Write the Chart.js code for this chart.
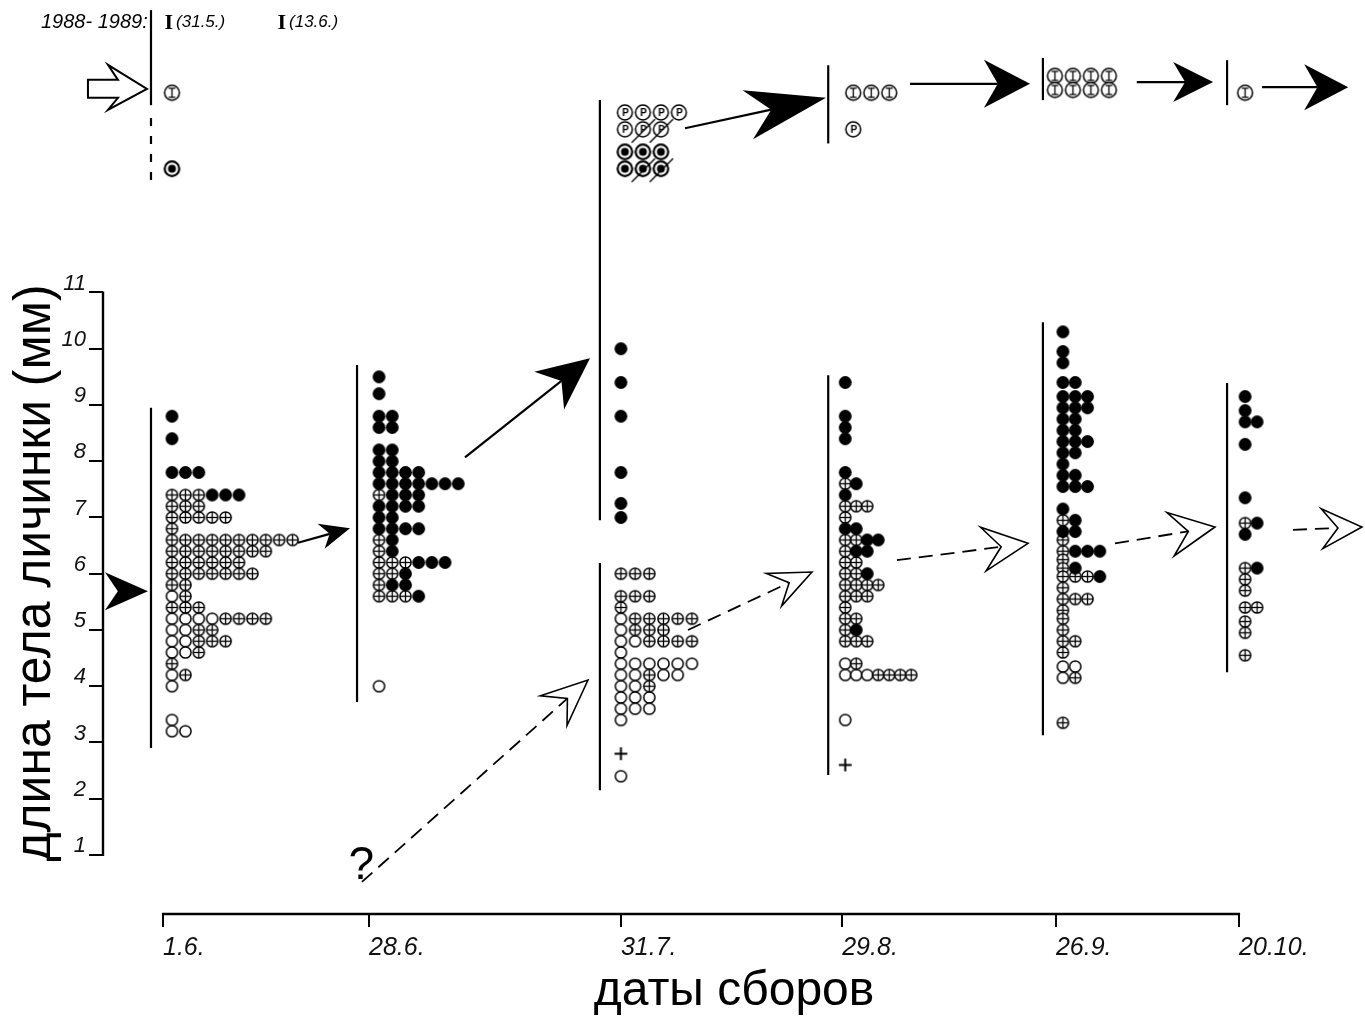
<!DOCTYPE html>
<html>
<head>
<meta charset="utf-8">
<script src="https://cdn.jsdelivr.net/npm/chart.js@4.4.0/dist/chart.umd.min.js"></script>
<style>
  body { margin: 0; background: #fff; }
  #wrap { width: 1365px; height: 1021px; }
</style>
</head>
<body>
<div id="wrap"><canvas id="larvae" width="1365" height="1021"></canvas></div>
<script>
// collection dates and their day number counted from 1 June
const dateLabels = ['1.6.', '28.6.', '31.7.', '29.8.', '26.9.', '20.10.'];
const dateDays = [0, 27, 60, 89, 117, 141];
const yTicks = [1, 2, 3, 4, 5, 6, 7, 8, 9, 10, 11];

// larvae per date: [body length mm, symbols from left to right]
// F = filled circle, O = open circle, X = circle with cross, + = cross only
const rows_1_6 = [
  [8.8, 'F'], [8.4, 'F'], [7.8, 'FFF'], [7.4, 'XXXFFF'], [7.2, 'XXX'], [7.0, 'XXXXX'],
  [6.8, 'X'], [6.6, 'XXXXXXXXXX'], [6.4, 'XXXXXXXX'], [6.2, 'XXXXXX'], [6.0, 'XXXXXXX'],
  [5.8, 'XX'], [5.6, 'OX'], [5.4, 'XXX'], [5.2, 'OOOOXXXX'], [5.0, 'OOXX'], [4.8, 'OOXXX'],
  [4.6, 'OOX'], [4.4, 'X'], [4.2, 'OX'], [4.0, 'O'], [3.4, 'O'], [3.2, 'OO']
];
const rows_28_6 = [
  [9.5, 'F'], [9.2, 'F'], [8.8, 'FF'], [8.6, 'FF'], [8.2, 'FF'], [8.0, 'FF'], [7.8, 'FFFF'],
  [7.6, 'FFFFFFF'], [7.4, 'XFFF'], [7.2, 'FFFF'], [7.0, 'FF'], [6.8, 'FFFF'], [6.6, 'XF'],
  [6.4, 'XF'], [6.2, 'XXXFFF'], [6.0, 'XXF'], [5.8, 'XFF'], [5.6, 'XXXF'], [4.0, 'O']
];
const rows_31_7 = [
  [10.0, 'F'], [9.4, 'F'], [8.8, 'F'], [7.8, 'F'], [7.25, 'F'], [7.0, 'F'],
  [6.0, 'XXX'], [5.6, 'XXX'], [5.4, 'X'], [5.2, 'OXXXXX'], [5.0, 'OXXX'], [4.8, 'OOXXXX'],
  [4.6, 'O'], [4.4, 'OOOOOO'], [4.2, 'OOXOO'], [4.0, 'OOX'], [3.8, 'OOO'], [3.6, 'OOO'],
  [3.4, 'O'], [2.8, '+'], [2.4, 'O']
];
const rows_29_8 = [
  [9.4, 'F'], [8.8, 'F'], [8.6, 'F'], [8.4, 'F'], [7.8, 'F'], [7.6, 'XF'], [7.4, 'F'],
  [7.2, 'XXX'], [7.0, 'X'], [6.8, 'FF'], [6.6, 'XXFF'], [6.4, 'XFF'], [6.2, 'XX'], [6.0, 'XXF'],
  [5.8, 'XXXX'], [5.6, 'XXX'], [5.4, 'X'], [5.2, 'XX'], [5.0, 'XF'], [4.8, 'XXX'],
  [4.4, 'OX'], [4.2, 'OOOXXXX'], [3.4, 'O'], [2.6, '+']
];
const rows_26_9 = [
  [10.3, 'F'], [9.95, 'F'], [9.75, 'F'], [9.4, 'FF'], [9.15, 'FFF'], [8.95, 'FFF'], [8.75, 'FF'],
  [8.55, 'FF'], [8.35, 'FFF'], [8.15, 'FF'], [7.95, 'F'], [7.75, 'FF'], [7.55, 'FFF'], [7.15, 'F'],
  [6.95, 'XF'], [6.75, 'FF'], [6.6, 'X'], [6.4, 'XFFF'], [6.25, 'X'], [6.1, 'XF'], [5.95, 'XXXF'],
  [5.75, 'X'], [5.55, 'XXX'], [5.35, 'X'], [5.2, 'X'], [5.0, 'X'], [4.8, 'XX'], [4.6, 'X'],
  [4.35, 'OO'], [4.15, 'OX'], [3.35, 'X']
];
const rows_20_10 = [
  [9.15, 'F'], [8.9, 'F'], [8.7, 'FF'], [8.3, 'F'], [7.35, 'F'], [6.9, 'XF'], [6.7, 'F'],
  [6.1, 'XF'], [5.9, 'X'], [5.7, 'X'], [5.4, 'XX'], [5.15, 'X'], [4.95, 'X'], [4.55, 'X']
];

// pupae and imagines drawn above the plot
// I = imago, P = pupa, D = circle with dot, lower case = crossed out
const top_1_6 = [[14.55, 'I'], [13.2, 'D']];
const top_28_6 = [];
const top_31_7 = [[14.2, 'PPPP'], [13.9, 'Ppp'], [13.5, 'DDD'], [13.2, 'Ddd']];
const top_29_8 = [[14.55, 'III'], [13.9, 'P']];
const top_26_9 = [[14.85, 'IIII'], [14.6, 'IIII']];
const top_20_10 = [[14.55, 'I']];

// vertical sample lines: [date index, from mm, to mm, dashed]
const colLines = [
  [0, 2.9, 8.95, false], [0, 14.33, 16.02, false], [0, 13.0, 14.2, true],
  [1, 3.72, 9.71, false],
  [2, 6.95, 14.42, false], [2, 2.15, 6.19, false],
  [3, 2.42, 9.53, false], [3, 13.65, 15.04, false],
  [4, 3.13, 10.47, false], [4, 14.42, 15.17, false],
  [5, 4.25, 9.39, false], [5, 14.33, 15.13, false]
];

// arrows: [from day, from mm, to day, to mm, head length, head half width, kind]
const arrows = [
  [null, null, -1.97, 5.69, 43, 19, 'solid'],
  [17.69, 6.55, 24.5, 6.81, 30, 13, 'solid'],
  [39.57, 8.07, 55.95, 9.83, 52, 24, 'solid'],
  [68.4, 13.92, 86.87, 14.46, 80, 25, 'solid'],
  [97.88, 14.71, 113.6, 14.71, 46, 24, 'solid'],
  [127.6, 14.74, 137.6, 14.74, 40, 20, 'solid'],
  [144.0, 14.65, 155.3, 14.65, 44, 23, 'solid'],
  [26.07, 0.52, 55.69, 4.11, 46, 20, 'dashed'],
  [68.79, 5.0, 85.04, 6.03, 42, 18, 'dashed'],
  [96.17, 6.24, 113.34, 6.54, 45, 22, 'dashed'],
  [124.74, 6.54, 137.84, 6.83, 45, 22, 'dashed'],
  [148.06, 6.78, 157.1, 6.83, 40, 20, 'dashed']
];

// layout
const X_MIN = -7.86, X_MAX = 157.5, Y_MIN = -0.05, Y_MAX = 16.2;
const PX_PER_DAY = (1365 - 103) / (X_MAX - X_MIN);
const lineOffsetPx = [-12, -12, -21, -14, -13, -12];
const dotStartPx = [9, 10, 0, 3, 7, 6];
const dotStepPx = [13.4, 13.2, 14.2, 11, 12.3, 12];
const topStartPx = [9, 0, 4, 11, -1, 6];
const TOP_STEP_PX = 18;
const FONT = 'Liberation Sans';

function symbolCanvas(kind, r) {
  const slash = kind === 'p' || kind === 'd';
  const size = Math.ceil(2 * r + (slash ? 14 : 4));
  const c = document.createElement('canvas');
  c.width = c.height = size;
  const g = c.getContext('2d');
  const m = size / 2;
  const line = (x1, y1, x2, y2) => { g.beginPath(); g.moveTo(x1, y1); g.lineTo(x2, y2); g.stroke(); };
  g.strokeStyle = '#000';
  g.fillStyle = '#000';
  g.lineWidth = 1.5;
  if (kind === 'F') {
    g.beginPath(); g.arc(m, m, r, 0, Math.PI * 2); g.fill();
    return c;
  }
  if (kind === '+') {
    g.lineWidth = 2;
    line(m - r, m, m + r, m);
    line(m, m - r, m, m + r);
    return c;
  }
  g.beginPath(); g.arc(m, m, r - 0.8, 0, Math.PI * 2);
  g.fillStyle = '#fff'; g.fill(); g.stroke();
  g.fillStyle = '#000';
  const k = kind.toUpperCase();
  if (k === 'X') {
    g.lineWidth = 1.3;
    line(m - r + 1, m, m + r - 1, m);
    line(m, m - r + 1, m, m + r - 1);
  } else if (k === 'I') {
    g.lineWidth = 1.3;
    const h = r * 0.55, w = r * 0.4;
    line(m, m - h, m, m + h);
    line(m - w, m - h, m + w, m - h);
    line(m - w, m + h, m + w, m + h);
  } else if (k === 'P') {
    g.font = 'bold ' + Math.round(r * 1.2) + 'px ' + FONT;
    g.textAlign = 'center';
    g.textBaseline = 'middle';
    g.fillText('P', m + 0.5, m + 1);
  } else if (k === 'D') {
    g.lineWidth = 2;
    g.beginPath(); g.arc(m, m, r - 1, 0, Math.PI * 2); g.stroke();
    g.beginPath(); g.arc(m, m, r * 0.48, 0, Math.PI * 2); g.fill();
  }
  if (slash) {
    g.lineWidth = 1.3;
    line(m - r - 3, m + r + 5, m + r + 4, m - r - 2);
  }
  return c;
}

const rowsByDate = [rows_1_6, rows_28_6, rows_31_7, rows_29_8, rows_26_9, rows_20_10];
const topsByDate = [top_1_6, top_28_6, top_31_7, top_29_8, top_26_9, top_20_10];

const points = {};
rowsByDate.forEach((rows, i) => {
  rows.forEach(([len, marks]) => {
    [...marks].forEach((s, k) => {
      (points[s] = points[s] || []).push({
        x: dateDays[i] + (dotStartPx[i] + k * dotStepPx[i]) / PX_PER_DAY,
        y: len
      });
    });
  });
});
const topPoints = {};
topsByDate.forEach((rows, i) => {
  rows.forEach(([len, marks]) => {
    [...marks].forEach((s, k) => {
      (topPoints[s] = topPoints[s] || []).push({
        x: dateDays[i] + (topStartPx[i] + k * TOP_STEP_PX) / PX_PER_DAY,
        y: len
      });
    });
  });
});

const datasets = [];
Object.keys(points).forEach(s => {
  datasets.push({ data: points[s], pointStyle: symbolCanvas(s, 6.4), pointRadius: 6, showLine: false, clip: false });
});
Object.keys(topPoints).forEach(s => {
  datasets.push({ data: topPoints[s], pointStyle: symbolCanvas(s, 8.2), pointRadius: 8, showLine: false, clip: false });
});
colLines.forEach(([i, lo, hi, dashed]) => {
  const xv = dateDays[i] + lineOffsetPx[i] / PX_PER_DAY;
  datasets.push({
    data: [{ x: xv, y: lo }, { x: xv, y: hi }],
    showLine: true, pointRadius: 0, borderColor: '#000', borderWidth: 2.2,
    borderDash: dashed ? [8, 10] : [], clip: false
  });
});

function arrowHead(ctx, tx, ty, ang, len, hw, filled) {
  const ux = Math.cos(ang), uy = Math.sin(ang), nx = -uy, ny = ux;
  const bx = tx - ux * len, by = ty - uy * len;
  const notch = len * (filled ? 0.3 : 0.4);
  ctx.beginPath();
  ctx.moveTo(tx, ty);
  ctx.lineTo(bx + nx * hw, by + ny * hw);
  ctx.lineTo(tx - ux * (len - notch), ty - uy * (len - notch));
  ctx.lineTo(bx - nx * hw, by - ny * hw);
  ctx.closePath();
  if (filled) {
    ctx.fill();
  } else {
    ctx.fillStyle = '#fff';
    ctx.fill();
    ctx.fillStyle = '#000';
    ctx.lineWidth = 1.6;
    ctx.setLineDash([]);
    ctx.stroke();
  }
  return [tx - ux * (len - notch), ty - uy * (len - notch)];
}

const extras = {
  id: 'extras',
  afterDraw(chart) {
    const { ctx, chartArea, scales: { x, y } } = chart;
    const px = d => x.getPixelForValue(d);
    const py = m => y.getPixelForValue(m);
    ctx.save();
    ctx.strokeStyle = '#000';
    ctx.fillStyle = '#000';

    // axis lines only over the labelled range
    ctx.lineWidth = 2.4;
    ctx.beginPath();
    ctx.moveTo(chartArea.left, py(yTicks[0]) + 1);
    ctx.lineTo(chartArea.left, py(yTicks[yTicks.length - 1]) - 1);
    ctx.moveTo(px(dateDays[0]) - 1, chartArea.bottom);
    ctx.lineTo(px(dateDays[dateDays.length - 1]) + 1, chartArea.bottom);
    ctx.stroke();

    // y title, narrow and tall like the original lettering
    ctx.save();
    ctx.font = '52px ' + FONT;
    const title = 'длина тела личинки (мм)';
    const sx = 577 / ctx.measureText(title).width;
    ctx.translate(50, 573);
    ctx.rotate(-Math.PI / 2);
    ctx.scale(sx, 1);
    ctx.textAlign = 'center';
    ctx.textBaseline = 'alphabetic';
    ctx.fillText(title, 0, 0);
    ctx.restore();

    // arrows
    arrows.forEach(([fd, fm, td, tm, len, hw, kind]) => {
      const tx = px(td), ty = py(tm);
      let ang = 0;
      if (fd !== null) ang = Math.atan2(ty - py(fm), tx - px(fd));
      const [ex, ey] = arrowHead(ctx, tx, ty, ang, len, hw, kind === 'solid');
      if (fd === null) return;
      ctx.lineWidth = kind === 'solid' ? 2.2 : 1.8;
      ctx.setLineDash(kind === 'solid' ? [] : [14, 8]);
      ctx.beginPath();
      ctx.moveTo(px(fd), py(fm));
      ctx.lineTo(ex, ey);
      ctx.stroke();
      ctx.setLineDash([]);
    });

    // hollow block arrow at the 1988-1989 record
    const bx = px(-2.1), by = py(14.62);
    ctx.lineWidth = 2;
    ctx.beginPath();
    [[-59, -9], [-29, -9], [-39, -24], [0, 0], [-39, 21], [-29, 9], [-59, 9]].forEach(([dx, dy], k) => {
      if (k === 0) ctx.moveTo(bx + dx, by + dy); else ctx.lineTo(bx + dx, by + dy);
    });
    ctx.closePath();
    ctx.stroke();

    // text notes
    ctx.textBaseline = 'middle';
    ctx.font = 'italic 20px ' + FONT;
    ctx.textAlign = 'right';
    ctx.fillText('1988- 1989:', px(-2.0), py(15.8));
    ctx.textAlign = 'left';
    [['(31.5.)', 0.2], ['(13.6.)', 15]].forEach(([t, d]) => {
      ctx.font = 'bold 22px Liberation Serif';
      ctx.fillText('I', px(d), py(15.8) + 1);
      const w = ctx.measureText('I').width;
      ctx.font = 'italic 17px ' + FONT;
      ctx.fillText(t, px(d) + w + 3, py(15.8));
    });
    ctx.font = '46px ' + FONT;
    ctx.textAlign = 'center';
    ctx.fillText('?', px(26.0), py(0.8));
    ctx.restore();
  }
};

new Chart(document.getElementById('larvae'), {
  type: 'scatter',
  data: { datasets },
  options: {
    responsive: false,
    animation: false,
    events: [],
    layout: { padding: 0, autoPadding: false },
    plugins: { legend: { display: false }, tooltip: { enabled: false }, title: { display: false } },
    scales: {
      x: {
        type: 'linear',
        min: X_MIN,
        max: X_MAX,
        afterFit: s => { s.height = 107; s.paddingLeft = 0; s.paddingRight = 0; },
        afterBuildTicks: s => { s.ticks = dateDays.map(v => ({ value: v })); },
        border: { display: false },
        grid: { drawOnChartArea: false, drawTicks: true, tickLength: 13, color: '#000', lineWidth: 2 },
        ticks: {
          autoSkip: false,
          maxRotation: 0,
          align: 'start',
          padding: 6,
          color: '#111',
          font: { family: FONT, style: 'italic', size: 25 },
          callback: (v, i) => dateLabels[i]
        },
        title: {
          display: true,
          text: 'даты сборов',
          color: '#000',
          font: { family: FONT, size: 48 },
          padding: { top: 0, bottom: 0 }
        }
      },
      y: {
        type: 'linear',
        min: Y_MIN,
        max: Y_MAX,
        afterFit: s => { s.width = 103; s.paddingTop = 0; s.paddingBottom = 0; },
        afterBuildTicks: s => { s.ticks = yTicks.map(v => ({ value: v })); },
        border: { display: false },
        grid: { drawOnChartArea: false, drawTicks: true, tickLength: 14, color: '#000', lineWidth: 2 },
        ticks: {
          padding: 3,
          labelOffset: -9,
          color: '#111',
          font: { family: FONT, style: 'italic', size: 22 },
          callback: v => String(v)
        }
      }
    }
  },
  plugins: [extras]
});
</script>
</body>
</html>
